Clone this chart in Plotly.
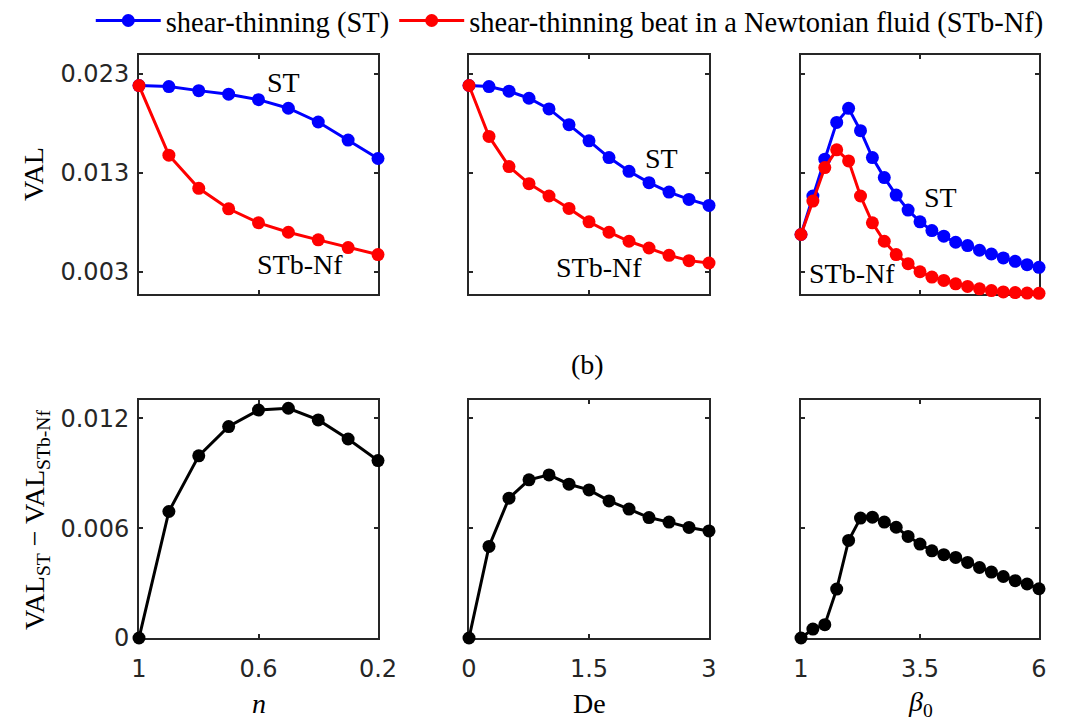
import plotly.graph_objects as go

# ---------------- data ----------------
n_vals = [1.0, 0.9, 0.8, 0.7, 0.6, 0.5, 0.4, 0.3, 0.2]
st_n = [0.02181, 0.02171, 0.02130, 0.02094, 0.02039, 0.01952, 0.01813, 0.01630, 0.01444]
stbnf_n = [0.02181, 0.01478, 0.01143, 0.00936, 0.00794, 0.00699, 0.00622, 0.00544, 0.00473]
diff_n = [0.0, 0.00691, 0.00995, 0.01155, 0.01245, 0.01255, 0.01191, 0.01087, 0.00969]

de_vals = [0.0, 0.25, 0.5, 0.75, 1.0, 1.25, 1.5, 1.75, 2.0, 2.25, 2.5, 2.75, 3.0]
st_de = [0.02182, 0.02171, 0.02124, 0.02053, 0.01945, 0.01786, 0.01623, 0.01454,
         0.01315, 0.01200, 0.01105, 0.01031, 0.00970]
stbnf_de = [0.02182, 0.01667, 0.01363, 0.01190, 0.01065, 0.00940, 0.00804, 0.00699,
            0.00608, 0.00540, 0.00466, 0.00412, 0.00388]
diff_de = [0.0, 0.00500, 0.00764, 0.00864, 0.00891, 0.00840, 0.00809, 0.00749,
           0.00704, 0.00658, 0.00633, 0.00604, 0.00585]

beta_vals = [1.0, 1.25, 1.5, 1.75, 2.0, 2.25, 2.5, 2.75, 3.0, 3.25, 3.5, 3.75, 4.0,
             4.25, 4.5, 4.75, 5.0, 5.25, 5.5, 5.75, 6.0]
st_beta = [0.00676, 0.01065, 0.01437, 0.01809, 0.01951, 0.01725, 0.01454, 0.01251,
           0.01075, 0.00923, 0.00804, 0.00716, 0.00659, 0.00598, 0.00564, 0.00517,
           0.00479, 0.00439, 0.00405, 0.00371, 0.00344]
stbnf_beta = [0.00676, 0.01014, 0.01352, 0.01532, 0.01420, 0.01065, 0.00794, 0.00608,
              0.00473, 0.00381, 0.00300, 0.00246, 0.00212, 0.00178, 0.00151, 0.00127,
              0.00110, 0.00096, 0.00089, 0.00084, 0.00082]
diff_beta = [0.0, 0.00049, 0.00073, 0.00267, 0.00533, 0.00655, 0.00660, 0.00633,
             0.00605, 0.00555, 0.00513, 0.00476, 0.00455, 0.00440, 0.00413, 0.00385,
             0.00360, 0.00336, 0.00313, 0.00295, 0.00269]

top_ticks = [0.003, 0.013, 0.023]
top_ticklabels = ["0.003", "0.013", "0.023"]
bot_ticks = [0, 0.006, 0.012]
bot_ticklabels = ["0", "0.006", "0.012"]
x_ticks = [[1, 0.6, 0.2], [0, 1.5, 3], [1, 3.5, 6]]
x_ticklabels = [["1", "0.6", "0.2"], ["0", "1.5", "3"], ["1", "3.5", "6"]]
x_ranges = [[1, 0.2], [0, 3], [1, 6]]
x_titles = ["<i>n</i>", "De", "<i>β</i><sub>0</sub>"]
legend_names = ["shear-thinning (ST)", "shear-thinning beat in a Newtonian fluid (STb-Nf)"]

# ---------------- style ----------------
W, H = 1069, 720
SERIF = "Liberation Serif, Times New Roman, serif"
SANS = "DejaVu Sans, Arial, sans-serif"
FRAME = "#262626"
BLUE, RED, BLACK = "#0000FF", "#FF0000", "#000000"
MS, LW = 13, 3

col_px = [(139, 378), (469, 709), (801, 1039)]
top_px = (55, 293.5)
bot_px = (400, 638)


def xdom(c):
    return [c[0] / W, c[1] / W]


def ydom(r):
    return [1 - r[1] / H, 1 - r[0] / H]


fig = go.Figure()

xs = [n_vals, de_vals, beta_vals]
sts = [st_n, st_de, st_beta]
stbs = [stbnf_n, stbnf_de, stbnf_beta]
diffs = [diff_n, diff_de, diff_beta]

for i in range(3):
    xa_top = "x" if i == 0 else f"x{i + 1}"
    ya_top = "y" if i == 0 else f"y{i + 1}"
    fig.add_trace(go.Scatter(x=xs[i], y=sts[i], mode="lines+markers",
                             name=legend_names[0], showlegend=(i == 0),
                             line=dict(color=BLUE, width=LW),
                             marker=dict(color=BLUE, size=MS),
                             cliponaxis=False, xaxis=xa_top, yaxis=ya_top))
    fig.add_trace(go.Scatter(x=xs[i], y=stbs[i], mode="lines+markers",
                             name=legend_names[1], showlegend=(i == 0),
                             line=dict(color=RED, width=LW),
                             marker=dict(color=RED, size=MS),
                             cliponaxis=False, xaxis=xa_top, yaxis=ya_top))
    fig.add_trace(go.Scatter(x=xs[i], y=diffs[i], mode="lines+markers",
                             showlegend=False,
                             line=dict(color=BLACK, width=LW),
                             marker=dict(color=BLACK, size=MS),
                             cliponaxis=False, xaxis=f"x{i + 4}", yaxis=f"y{i + 4}"))

axis_common = dict(showline=True, mirror="allticks", linecolor=FRAME, linewidth=2,
                   ticks="inside", ticklen=4, tickwidth=1.5, tickcolor=FRAME,
                   showgrid=False, zeroline=False, automargin=False,
                   layer="below traces",
                   tickfont=dict(family=SANS, size=24, color=FRAME))

layout = {}
for i in range(3):
    kx = "xaxis" if i == 0 else f"xaxis{i + 1}"
    ky = "yaxis" if i == 0 else f"yaxis{i + 1}"
    ax_id = "x" if i == 0 else f"x{i + 1}"
    ay_id = "y" if i == 0 else f"y{i + 1}"
    layout[kx] = dict(axis_common, domain=xdom(col_px[i]), anchor=ay_id,
                      range=x_ranges[i], tickmode="array", tickvals=x_ticks[i],
                      showticklabels=False)
    layout[ky] = dict(axis_common, domain=ydom(top_px), anchor=ax_id,
                      range=[0.0008, 0.0249], tickmode="array", tickvals=top_ticks,
                      ticktext=top_ticklabels, showticklabels=(i == 0),
                      ticklabelstandoff=3)
    layout[f"xaxis{i + 4}"] = dict(axis_common, domain=xdom(col_px[i]), anchor=f"y{i + 4}",
                                   range=x_ranges[i], tickmode="array", tickvals=x_ticks[i],
                                   ticktext=x_ticklabels[i], ticklabelstandoff=8)
    layout[f"yaxis{i + 4}"] = dict(axis_common, domain=ydom(bot_px), anchor=f"x{i + 4}",
                                   range=[0, 0.013], tickmode="array", tickvals=bot_ticks,
                                   ticktext=bot_ticklabels, showticklabels=(i == 0),
                                   ticklabelstandoff=3)

fig.update_layout(**layout)

annotations = []
TXT = dict(family=SERIF, size=28, color="black")
curve_labels = [
    ("x", "y", 0.518, 0.0221, "ST"),
    ("x", "y", 0.461, 0.00371, "STb-Nf"),
    ("x2", "y2", 2.40, 0.01441, "ST"),
    ("x2", "y2", 1.625, 0.00340, "STb-Nf"),
    ("x3", "y3", 3.94, 0.01053, "ST"),
    ("x3", "y3", 2.07, 0.00280, "STb-Nf"),
]
for xr, yr, x, y, t in curve_labels:
    annotations.append(dict(xref=xr, yref=yr, x=x, y=y, text=t, showarrow=False,
                            font=TXT, xanchor="center", yanchor="middle"))

for i in range(3):
    cx = (col_px[i][0] + col_px[i][1]) / 2 / W
    annotations.append(dict(xref="paper", yref="paper", x=cx, y=1 - 703 / H,
                            text=x_titles[i], showarrow=False, font=TXT,
                            xanchor="center", yanchor="middle"))

annotations.append(dict(xref="paper", yref="paper", x=33 / W, y=1 - 174 / H,
                        text="VAL", textangle=-90, showarrow=False, font=TXT,
                        xanchor="center", yanchor="middle"))
annotations.append(dict(xref="paper", yref="paper", x=36 / W, y=1 - 520 / H,
                        text="VAL<sub>ST</sub> − VAL<sub>STb-Nf</sub>", textangle=-90,
                        showarrow=False, font=TXT, xanchor="center", yanchor="middle"))

annotations.append(dict(xref="paper", yref="paper", x=587 / W, y=1 - 364 / H,
                        text="(b)", showarrow=False, font=TXT,
                        xanchor="center", yanchor="middle"))

fig.update_layout(
    width=W, height=H,
    margin=dict(l=0, r=0, t=0, b=0, pad=0, autoexpand=False),
    paper_bgcolor="white", plot_bgcolor="white",
    annotations=annotations,
    showlegend=True,
    legend=dict(orientation="h", x=0.533, y=1 - 21 / H, xanchor="center", yanchor="middle",
                font=dict(family=SERIF, size=28.5, color="black"),
                bgcolor="rgba(0,0,0,0)", itemwidth=65, tracegroupgap=0),
)

fig.write_html("out.html",
               config={"displayModeBar": False},
               post_script="document.body.style.margin='0';document.body.style.padding='0';")
